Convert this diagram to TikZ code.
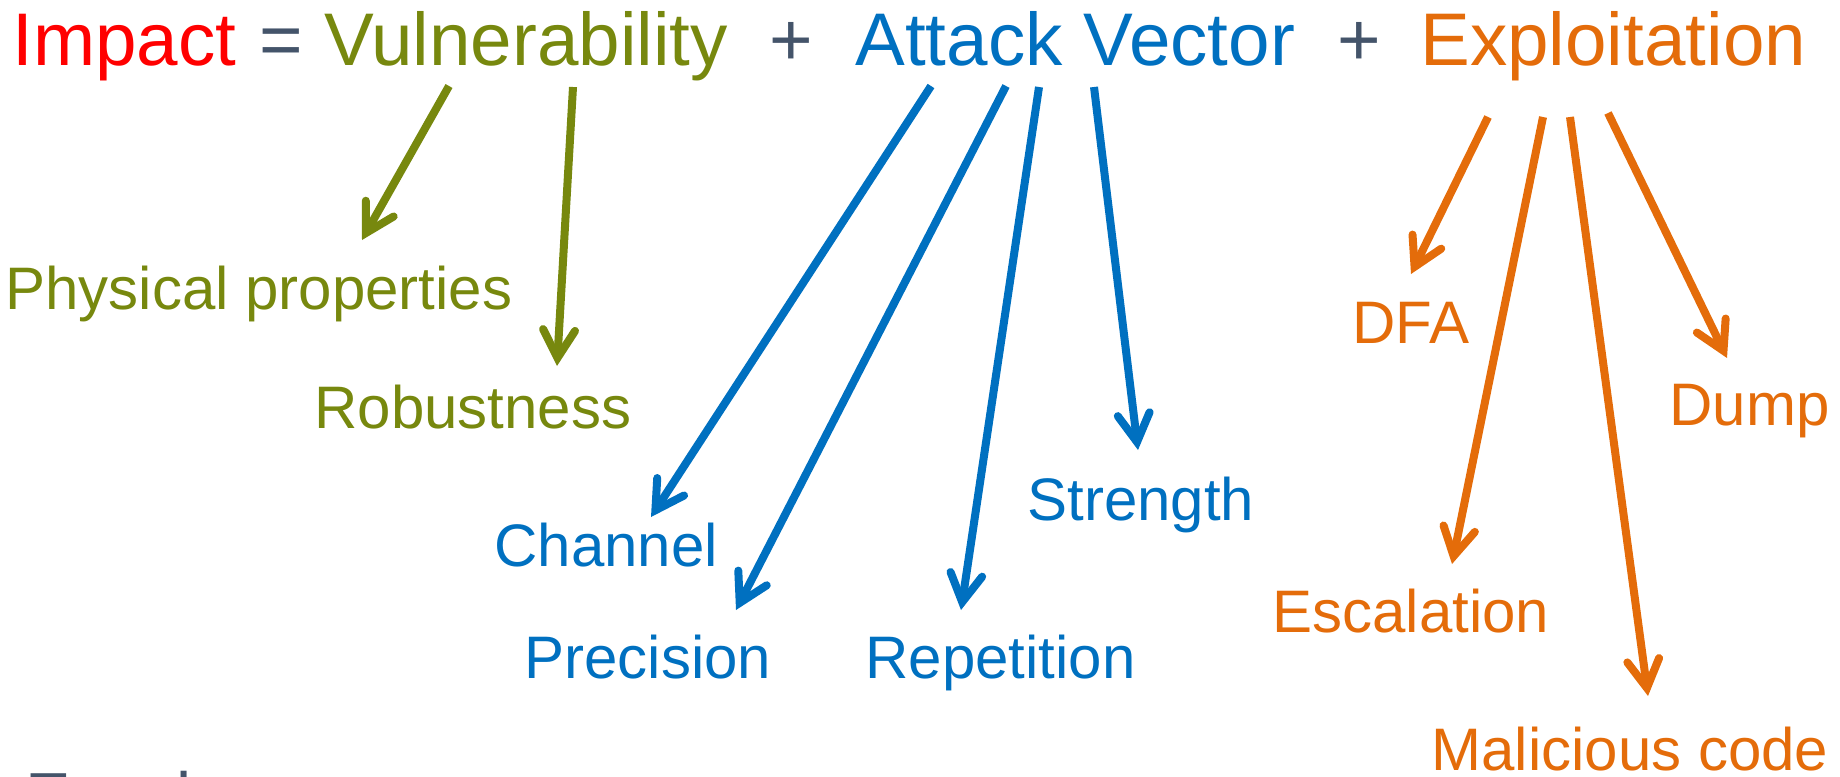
\documentclass[tikz,border=0pt]{standalone}
\usepackage{fontspec}
\setmainfont{Liberation Sans}
\usetikzlibrary{arrows.meta}

\definecolor{impred}{HTML}{FF0000}
\definecolor{vulgreen}{HTML}{77880E}
\definecolor{atkblue}{HTML}{0070C0}
\definecolor{expor}{HTML}{E46C0A}
\definecolor{opgray}{HTML}{44546A}

\tikzset{
  head/.style={inner sep=0pt, anchor=base west, font=\fontsize{37.3}{44}\selectfont},
  op/.style={inner sep=0pt, anchor=base, font=\fontsize{37.3}{44}\selectfont, text=opgray},
  leaf/.style={inner sep=0pt, anchor=base west, font=\fontsize{30}{36}\selectfont},
  arr/.style={line width=4pt,
    -{Straight Barb[length=14pt, width=16pt, line cap=round, line join=miter]}},
}

\begin{document}
\begin{tikzpicture}[x=0.5pt, y=-0.5pt]
\useasboundingbox (0,0) rectangle (1840,776);

% equation line
\node[head, text=impred]   (imp) at (12,65)   {Impact};
\node[op]                  (eq)  at (281,65)  {=};
\node[head, text=vulgreen] (vul) at (324,65)  {Vulnerability};
\node[op]                  (pa)  at (791,65)  {+};
\node[head, text=atkblue]  (att) at (855,65)  {Attack Vector};
\node[op]                  (pb)  at (1359,65) {+};
\node[head, text=expor]    (exp) at (1420,65) {Exploitation};

% factors of each term
\node[leaf, text=vulgreen] (phys) at (5,309)    {Physical properties};
\node[leaf, text=vulgreen] (rob)  at (314,428)  {Robustness};
\node[leaf, text=atkblue]  (chan) at (494,566)  {Channel};
\node[leaf, text=atkblue]  (prec) at (524,678)  {Precision};
\node[leaf, text=atkblue]  (rep)  at (865,678)  {Repetition};
\node[leaf, text=atkblue]  (str)  at (1027,520) {Strength};
\node[leaf, text=expor]    (dfa)  at (1352,343) {DFA};
\node[leaf, text=expor]    (dump) at (1669,425) {Dump};
\node[leaf, text=expor]    (esc)  at (1272,632) {Escalation};
\node[leaf, text=expor]    (mal)  at (1431,770) {Malicious code};

% next heading, running off the lower edge
\node[inner sep=0pt, anchor=base west, font=\fontsize{34}{40}\selectfont, text=opgray]
  (nxt) at (25,820) {Excel};

% arrows
\draw[arr, vulgreen] ([shift={(125,21)}]vul.base west) -- ([shift={(357,-69)}]phys.base west);
\draw[arr, vulgreen] ([shift={(249,22)}]vul.base west) -- ([shift={(243,-62)}]rob.base west);

\draw[arr, atkblue] ([shift={(76,21)}]att.base west)  -- ([shift={(157,-49)}]chan.base west);
\draw[arr, atkblue] ([shift={(151,21)}]att.base west) -- ([shift={(212,-68)}]prec.base west);
\draw[arr, atkblue] ([shift={(184,22)}]att.base west) -- ([shift={(96,-68)}]rep.base west);
\draw[arr, atkblue] ([shift={(239,22)}]att.base west) -- ([shift={(111,-70)}]str.base west);

\draw[arr, expor] ([shift={(68,52)}]exp.base west)  -- ([shift={(59,-69)}]dfa.base west);
\draw[arr, expor] ([shift={(123,52)}]exp.base west) -- ([shift={(180,-68)}]esc.base west);
\draw[arr, expor] ([shift={(150,52)}]exp.base west) -- ([shift={(217,-74)}]mal.base west);
\draw[arr, expor] ([shift={(188,48)}]exp.base west) -- ([shift={(58,-67)}]dump.base west);
\end{tikzpicture}
\end{document}
